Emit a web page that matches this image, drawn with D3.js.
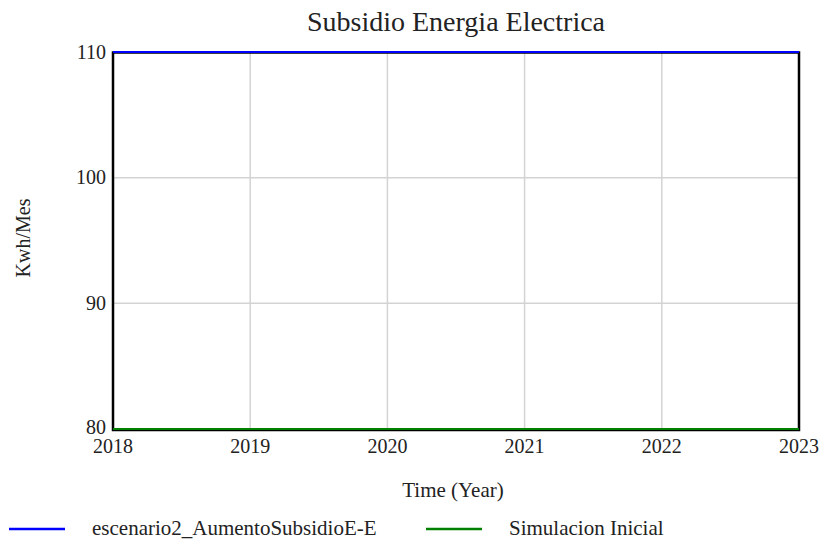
<!DOCTYPE html>
<html><head><meta charset="utf-8">
<script src="https://cdn.jsdelivr.net/npm/d3@7"></script>
<style>body{margin:0;background:#fff}svg{display:block}text{font-family:"Liberation Serif","Times New Roman",serif;fill:#222}</style>
</head><body><svg id="c" width="821" height="541"></svg>
<script>
const years = [2018, 2019, 2020, 2021, 2022, 2023];
const escenario2 = [110, 110, 110, 110, 110, 110];
const simulacionInicial = [80, 80, 80, 80, 80, 80];
const yTicks = [80, 90, 100, 110];
const seriesNames = ["escenario2_AumentoSubsidioE-E", "Simulacion Inicial"];
const seriesColors = ["#0000ff", "#008000"];

const svg = d3.select("#c");
const L = 113, R = 799, T = 52, B = 429;
const x = d3.scaleLinear().domain([2018, 2023]).range([L, R]);
const y = d3.scaleLinear().domain([80, 110]).range([B, T]);

// grid
svg.append("g").selectAll("line").data(years).join("line")
  .attr("x1", d => x(d)).attr("x2", d => x(d)).attr("y1", T).attr("y2", B)
  .attr("stroke", "#d3d3d3").attr("stroke-width", 1.5);
svg.append("g").selectAll("line").data(yTicks).join("line")
  .attr("x1", L).attr("x2", R).attr("y1", d => y(d)).attr("y2", d => y(d))
  .attr("stroke", "#d3d3d3").attr("stroke-width", 1.5);

// frame
svg.append("rect").attr("x", L).attr("y", T + 0.5).attr("width", R - L).attr("height", B - T + 0.5)
  .attr("fill", "none").attr("stroke", "#000").attr("stroke-width", 2.5);

// series
const line = d3.line().x((d, i) => x(years[i])).y(d => y(d));
[escenario2, simulacionInicial].forEach((s, k) => {
  svg.append("path").datum(s).attr("d", line).attr("fill", "none")
    .attr("stroke", seriesColors[k]).attr("stroke-width", 2);
});

// y tick labels
svg.append("g").selectAll("text").data(yTicks).join("text")
  .attr("x", L - 7).attr("y", d => y(d) - (d === 80 ? 2 : 0)).attr("dy", "0.33em")
  .attr("text-anchor", "end").attr("font-size", 20).text(d => d);
// x tick labels
svg.append("g").selectAll("text").data(years).join("text")
  .attr("x", d => x(d)).attr("y", 453)
  .attr("text-anchor", "middle").attr("font-size", 20).text(d => d);

// title
svg.append("text").attr("x", 456).attr("y", 31).attr("text-anchor", "middle")
  .attr("font-size", 28).text("Subsidio Energia Electrica");
// axis titles
svg.append("text").attr("x", 453).attr("y", 497).attr("text-anchor", "middle")
  .attr("font-size", 21).text("Time (Year)");
svg.append("text").attr("transform", "translate(30,238) rotate(-90)")
  .attr("text-anchor", "middle").attr("font-size", 20).text("Kwh/Mes");

// legend
const lx = [9, 426], tx = [92, 509];
seriesNames.forEach((n, k) => {
  svg.append("line").attr("x1", lx[k]).attr("x2", lx[k] + 56).attr("y1", 529).attr("y2", 529)
    .attr("stroke", seriesColors[k]).attr("stroke-width", 2.5);
  svg.append("text").attr("x", tx[k]).attr("y", 535).attr("font-size", 21).text(n);
});
</script></body></html>
